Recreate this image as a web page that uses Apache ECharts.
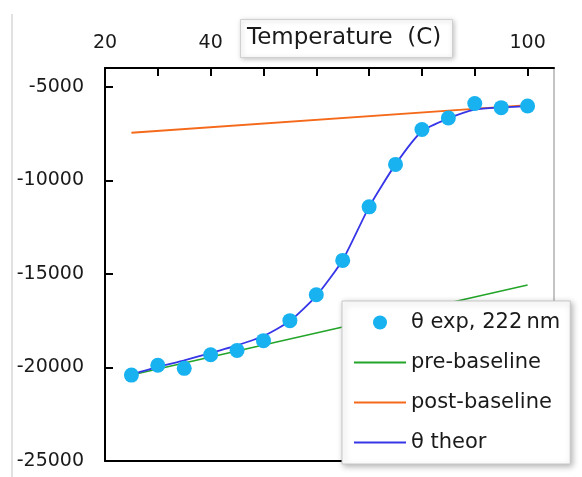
<!DOCTYPE html>
<html>
<head>
<meta charset="utf-8">
<script src="https://cdn.jsdelivr.net/npm/echarts@6/dist/echarts.min.js"></script>
<style>
html,body{margin:0;padding:0;background:#fff;}
#c{width:582px;height:477px;}
</style>
</head>
<body>
<div id="c"></div>
<script>
// Data
const expTemps = [25, 30, 35, 40, 45, 50, 55, 60, 65, 70, 75, 80, 85, 90, 95, 100];
const expTheta = [-20410, -19880, -20050, -19320, -19090, -18570, -17500, -16120, -14280, -11420, -9150, -7290, -6670, -5900, -6120, -6030];
const theorTemps = [25, 30, 35, 40, 45, 50, 55, 60, 65, 70, 75, 80, 85, 90, 95, 100];
const theorTheta = [-20380, -19970, -19620, -19230, -18820, -18320, -17520, -16180, -14260, -11420, -9150, -7380, -6700, -6230, -6110, -6040];
const preTemps = [25, 100];
const preTheta = [-20400, -15600];
const postTemps = [25, 100];
const postTheta = [-7460, -5980];
const xTicks = [20, 40, 60, 80, 100];
const yTicks = [-25000, -20000, -15000, -10000, -5000];
const names = ['\u03b8 exp, 222\u2009nm', 'pre-baseline', 'post-baseline', '\u03b8 theor'];

const zip = (a, b) => a.map((v, i) => [v, b[i]]);
const FONT = 'DejaVu Sans';
const chart = echarts.init(document.getElementById('c'), null, {renderer: 'canvas'});
chart.setOption({
  animation: false,
  backgroundColor: '#fff',
  textStyle: {fontFamily: FONT},
  grid: {left: 105, top: 68, right: 28, bottom: 16, show: true, borderColor: '#888', borderWidth: 1},
  title: {
    text: 'Temperature  (C)',
    left: 240, top: 19,
    padding: [8, 11, 8, 7],
    backgroundColor: '#fff',
    borderColor: '#d0d0d0', borderWidth: 1,
    shadowBlur: 5, shadowColor: 'rgba(0,0,0,0.25)', shadowOffsetX: 1, shadowOffsetY: 1,
    textStyle: {fontFamily: FONT, fontSize: 23, fontWeight: 'normal', color: '#1a1a1a', lineHeight: 23},
    z: 10
  },
  legend: {
    orient: 'vertical',
    left: 342, top: 301,
    padding: [11, 10, 11, 11],
    itemWidth: 52, itemHeight: 14, itemGap: 19,
    backgroundColor: '#fff',
    borderColor: '#c8c8c8', borderWidth: 1,
    shadowBlur: 6, shadowColor: 'rgba(0,0,0,0.3)', shadowOffsetX: 2, shadowOffsetY: 2,
    textStyle: {fontFamily: FONT, fontSize: 21, color: '#1a1a1a', lineHeight: 21},
    data: [
      {name: names[0]},
      {name: names[1], itemStyle: {opacity: 0}},
      {name: names[2], itemStyle: {opacity: 0}},
      {name: names[3], itemStyle: {opacity: 0}}
    ],
    z: 10
  },
  xAxis: [{
    type: 'value', position: 'top', min: 20, max: 105, interval: 10,
    axisLine: {show: true, lineStyle: {color: '#000', width: 2}},
    axisTick: {show: true, inside: true, length: 8, lineStyle: {color: '#000', width: 2}},
    axisLabel: {
      margin: 15, fontFamily: FONT, fontSize: 19, color: '#1a1a1a', showMaxLabel: false,
      formatter: v => (xTicks.indexOf(v) >= 0 ? String(v) : '')
    },
    splitLine: {show: false}
  }, {
    type: 'value', position: 'bottom', min: 20, max: 105, interval: 10,
    axisLine: {show: true, lineStyle: {color: '#000', width: 2}},
    axisTick: {show: false}, axisLabel: {show: false}, splitLine: {show: false}
  }],
  yAxis: {
    type: 'value', min: -25000, max: -4000, interval: 5000,
    axisLine: {show: true, lineStyle: {color: '#000', width: 2}},
    axisTick: {show: true, inside: true, length: 8, lineStyle: {color: '#000', width: 2}},
    axisLabel: {
      margin: 21, fontFamily: FONT, fontSize: 19, color: '#1a1a1a', showMaxLabel: false,
      formatter: v => (yTicks.indexOf(v) >= 0 ? String(v) : '')
    },
    splitLine: {show: false}
  },
  graphic: [{
    type: 'line', shape: {x1: 12, y1: 14, x2: 12, y2: 477},
    style: {stroke: '#e2e2e2', lineWidth: 2}, silent: true
  }],
  series: [{
    name: names[0], type: 'scatter', data: zip(expTemps, expTheta),
    symbol: 'circle', symbolSize: 15,
    itemStyle: {color: '#17b2ef', opacity: 1}, z: 5
  }, {
    name: names[1], type: 'line', data: zip(preTemps, preTheta),
    symbol: 'none', lineStyle: {color: '#22a528', width: 1.6},
    itemStyle: {color: '#22a528'}, z: 2
  }, {
    name: names[2], type: 'line', data: zip(postTemps, postTheta),
    symbol: 'none', lineStyle: {color: '#f5691a', width: 1.8},
    itemStyle: {color: '#f5691a'}, z: 2
  }, {
    name: names[3], type: 'line', data: zip(theorTemps, theorTheta),
    symbol: 'none', smooth: 0.2, lineStyle: {color: '#3636e8', width: 1.8},
    itemStyle: {color: '#3636e8'}, z: 3
  }]
});
</script>
</body>
</html>
